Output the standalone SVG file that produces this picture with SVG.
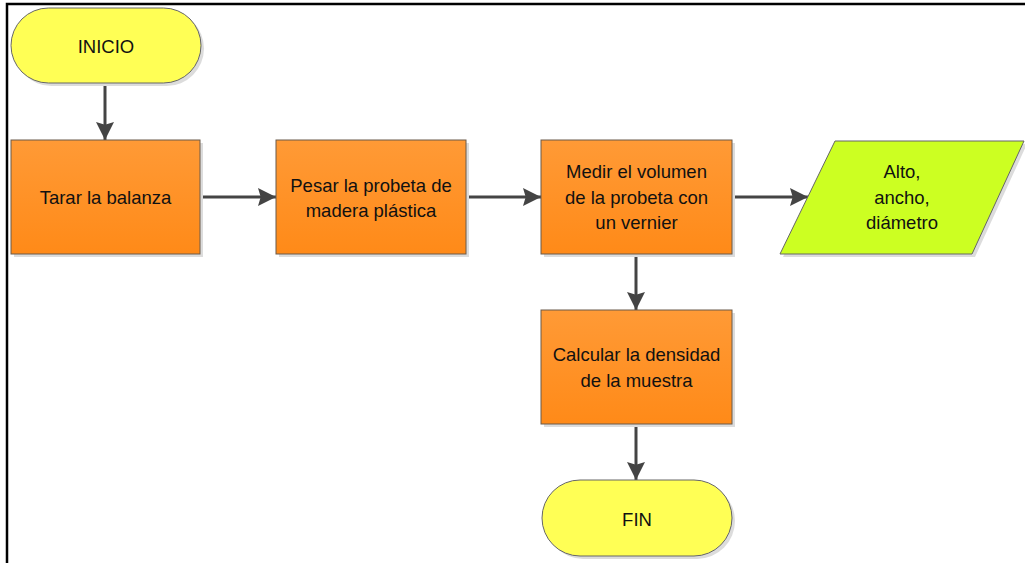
<svg xmlns="http://www.w3.org/2000/svg" width="1025" height="563" viewBox="0 0 1025 563">
<style>
.t{font-family:"Liberation Sans",Arial,sans-serif;font-size:18.5px;fill:#111;text-anchor:middle;dominant-baseline:central}
.proc{fill:url(#gO);stroke:#6b5a4a;stroke-width:1}
.term{fill:#ffff55;stroke:#666;stroke-width:1}
.io{fill:#ccff22;stroke:#666;stroke-width:1}
.sh{fill:#dcdcdc}
.c{stroke:#444;stroke-width:3;fill:none;marker-end:url(#ah)}
</style>
<defs>
<linearGradient id="gO" x1="0" y1="0" x2="0" y2="1"><stop offset="0" stop-color="#ff9a36"/><stop offset="1" stop-color="#ff8a18"/></linearGradient>
<marker id="ah" viewBox="0 0 10 10" refX="10" refY="5" markerWidth="6" markerHeight="6" markerUnits="strokeWidth" orient="auto"><path d="M0,0 L10,5 L0,10 L1.5,5 z" fill="#444"/></marker>
</defs>
<rect x="0" y="0" width="1025" height="563" fill="#fff"/>
<path d="M7,563 V4 H1025" fill="none" stroke="#000" stroke-width="2.5"/>
<g id="connectors">
<line class="c" x1="105" y1="84" x2="105" y2="140"/>
<line class="c" x1="200" y1="197" x2="276" y2="197"/>
<line class="c" x1="466" y1="197" x2="541" y2="197"/>
<line class="c" x1="732" y1="197" x2="808" y2="197"/>
<line class="c" x1="636" y1="254" x2="636" y2="310"/>
<line class="c" x1="636" y1="424" x2="636" y2="480"/>
</g>
<g id="inicio">
<rect class="sh" x="14" y="11" width="190" height="75" rx="37.5"/>
<rect class="term" x="11" y="8" width="190" height="75" rx="37.5"/>
<text class="t" x="106" y="46">INICIO</text>
</g>
<g id="tarar">
<rect class="sh" x="14" y="143" width="189" height="114"/>
<rect class="proc" x="11" y="140" width="189" height="114"/>
<text class="t" x="105.5" y="197">Tarar la balanza</text>
</g>
<g id="pesar">
<rect class="sh" x="279" y="143" width="190" height="114"/>
<rect class="proc" x="276" y="140" width="190" height="114"/>
<text class="t" x="371" y="185">Pesar la probeta de</text>
<text class="t" x="371" y="210">madera plástica</text>
</g>
<g id="medir">
<rect class="sh" x="544" y="143" width="191" height="114"/>
<rect class="proc" x="541" y="140" width="191" height="114"/>
<text class="t" x="636.5" y="171">Medir el volumen</text>
<text class="t" x="636.5" y="197">de la probeta con</text>
<text class="t" x="636.5" y="222">un vernier</text>
</g>
<g id="datos">
<polygon class="sh" points="838,144 1027,144 975,257 783,257"/>
<polygon class="io" points="835,141 1024,141 972,254 780,254"/>
<text class="t" x="902" y="171">Alto,</text>
<text class="t" x="902" y="197">ancho,</text>
<text class="t" x="902" y="222">diámetro</text>
</g>
<g id="calcular">
<rect class="sh" x="544" y="313" width="191" height="114"/>
<rect class="proc" x="541" y="310" width="191" height="114"/>
<text class="t" x="636.5" y="354">Calcular la densidad</text>
<text class="t" x="636.5" y="380">de la muestra</text>
</g>
<g id="fin">
<rect class="sh" x="545" y="483" width="190" height="76" rx="38"/>
<rect class="term" x="542" y="480" width="190" height="76" rx="38"/>
<text class="t" x="637" y="519">FIN</text>
</g>
</svg>
